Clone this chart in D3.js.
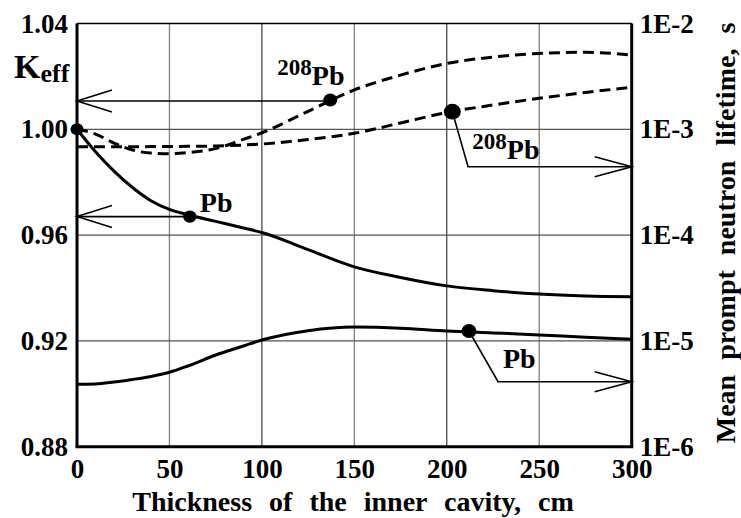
<!DOCTYPE html>
<html>
<head>
<meta charset="utf-8">
<script src="https://cdn.jsdelivr.net/npm/d3@7"></script>
<style>
  body { margin: 0; background: #fff; }
  svg { display: block; }
  svg text { font-family: "Liberation Serif", serif; font-weight: bold; }
</style>
</head>
<body>
<svg width="741" height="518"></svg>
<script>
// thickness of the inner cavity, cm
const thickness = [0, 10, 20, 30, 40, 50, 60, 75, 90, 100, 125, 150, 175, 200, 225, 250, 275, 300];
// Keff (left axis)
const keffPb    = [1.000, 0.9915, 0.9842, 0.978, 0.973, 0.9697, 0.9677, 0.9652, 0.9627, 0.961, 0.9545, 0.948, 0.944, 0.9408, 0.939, 0.9377, 0.937, 0.9367];
const keffPb208 = [1.000, 0.9982, 0.9948, 0.9922, 0.991, 0.9908, 0.9912, 0.9927, 0.9962, 0.9987, 1.0068, 1.0149, 1.0205, 1.0249, 1.0273, 1.0287, 1.0291, 1.0281];
// mean prompt neutron lifetime, s (right axis, log)
const lifePb    = [3.89e-6, 3.92e-6, 4.09e-6, 4.32e-6, 4.61e-6, 5.05e-6, 5.79e-6, 7.36e-6, 8.95e-6, 1.02e-5, 1.25e-5, 1.35e-5, 1.32e-5, 1.24e-5, 1.19e-5, 1.14e-5, 1.08e-5, 1.035e-5];
const lifePb208 = [6.85e-4, 6.85e-4, 6.85e-4, 6.85e-4, 6.86e-4, 6.87e-4, 6.91e-4, 6.95e-4, 7.10e-4, 7.26e-4, 8.01e-4, 9.17e-4, 1.147e-3, 1.441e-3, 1.697e-3, 1.963e-3, 2.228e-3, 2.495e-3];

const xTicks = [0, 50, 100, 150, 200, 250, 300];
const keffTicks = [0.88, 0.92, 0.96, 1.00, 1.04];
const lifeTicks = [1e-6, 1e-5, 1e-4, 1e-3, 1e-2];

// marked points: [thickness, value]
const startMark = [0, 1.000];
const keffPbMark = [61, 0.967];
const keffPb208Mark = [137, 1.0111];
const lifePb208Mark = [203, 1.467e-3];
const lifePbMark = [212, 1.24e-5];
// elbow points of the callouts going to the right axis
const lifePb208Elbow = [211.5, 4.43e-4];
const lifePbElbow = [227.7, 4.11e-6];

const svg = d3.select("svg");
const L = 77, R = 631.7, T = 23.5, B = 446.7;

const x = d3.scaleLinear().domain([0, 300]).range([L, R]);
const yK = d3.scaleLinear().domain([0.88, 1.04]).range([B, T]);
const yL = d3.scaleLog().domain([1e-6, 1e-2]).range([B, T]);

// grid
const vGrid = [50, 100, 150, 200, 250];
svg.append("g").selectAll("line").data(vGrid).join("line")
  .attr("x1", d => x(d)).attr("x2", d => x(d))
  .attr("y1", T).attr("y2", B)
  .attr("stroke", d => d % 100 === 0 ? "#111" : "#888")
  .attr("stroke-width", d => d % 100 === 0 ? 1 : 1.4);
svg.append("g").selectAll("line").data([0.92, 0.96, 1.00]).join("line")
  .attr("x1", L).attr("x2", R)
  .attr("y1", d => yK(d)).attr("y2", d => yK(d))
  .attr("stroke", "#555").attr("stroke-width", 1.3);

// frame
svg.append("line").attr("x1", L).attr("x2", R).attr("y1", T).attr("y2", T)
  .attr("stroke", "#000").attr("stroke-width", 1.5);
svg.append("line").attr("x1", L).attr("x2", L).attr("y1", T).attr("y2", B)
  .attr("stroke", "#000").attr("stroke-width", 3);
svg.append("line").attr("x1", R).attr("x2", R).attr("y1", T).attr("y2", B)
  .attr("stroke", "#000").attr("stroke-width", 3);
svg.append("line").attr("x1", L - 1.5).attr("x2", R + 1.5).attr("y1", B).attr("y2", B)
  .attr("stroke", "#000").attr("stroke-width", 3);

// axes (labels only)
const styleAxis = g => {
  g.attr("font-family", null).attr("font-size", 27);
  g.select(".domain").remove();
  g.selectAll("text").attr("fill", "#000");
};
svg.append("g").attr("transform", `translate(${L},0)`)
  .call(d3.axisLeft(yK).tickValues(keffTicks).tickFormat(d3.format(".2f")).tickSize(0).tickPadding(9))
  .call(styleAxis);
svg.append("g").attr("transform", `translate(${R},0)`)
  .call(d3.axisRight(yL).tickValues(lifeTicks).tickFormat(d => "1E" + Math.round(Math.log10(d))).tickSize(0).tickPadding(8))
  .call(styleAxis);
svg.append("g").attr("transform", `translate(0,${B})`)
  .call(d3.axisBottom(x).tickValues(xTicks).tickFormat(d3.format("d")).tickSize(0).tickPadding(12))
  .call(styleAxis);

// titles
svg.append("text").attr("x", 353).attr("y", 511).attr("text-anchor", "middle")
  .attr("font-size", 28).attr("word-spacing", 10)
  .text("Thickness of the inner cavity, cm");
svg.append("text").attr("transform", "translate(735,233) rotate(-90)").attr("text-anchor", "middle")
  .attr("font-size", 28).attr("word-spacing", 8)
  .text("Mean prompt neutron lifetime, s");
const kt = svg.append("text").attr("x", 14).attr("y", 78).attr("font-size", 34);
kt.append("tspan").text("K");
kt.append("tspan").attr("font-size", 26).attr("dy", 4).text("eff");

// curves
const rows = thickness.map((t, i) => ({ t, kPb: keffPb[i], k208: keffPb208[i], lPb: lifePb[i], l208: lifePb208[i] }));
const lineOf = (key, scale) => d3.line().x(d => x(d.t)).y(d => scale(d[key])).curve(d3.curveMonotoneX);
const curves = [
  { key: "kPb", scale: yK, dash: null },
  { key: "lPb", scale: yL, dash: null },
  { key: "k208", scale: yK, dash: "11,6" },
  { key: "l208", scale: yL, dash: "11,6" }
];
svg.append("g").selectAll("path").data(curves).join("path")
  .attr("d", c => lineOf(c.key, c.scale)(rows))
  .attr("fill", "none").attr("stroke", "#000").attr("stroke-width", 3)
  .attr("stroke-dasharray", c => c.dash);

// callout arrows
const ann = svg.append("g").attr("fill", "none").attr("stroke", "#000").attr("stroke-width", 1.6);
function arrowLeft(px, py) {
  ann.append("path").attr("d", `M${px},${py}H${L}`);
  ann.append("path").attr("d", `M${L + 35},${py - 11}L${L},${py}L${L + 35},${py + 11}`);
}
function arrowRight(pts) {
  const [p0, p1] = pts;
  const ey = p1[1];
  ann.append("path").attr("d", `M${p0[0]},${p0[1]}L${p1[0]},${ey}H${R}`);
  ann.append("path").attr("d", `M${R - 37},${ey - 10}L${R},${ey}L${R - 37},${ey + 10}`);
}
arrowLeft(x(keffPb208Mark[0]), yK(keffPb208Mark[1]) + 1);
arrowLeft(x(keffPbMark[0]), yK(keffPbMark[1]));
arrowRight([[x(lifePb208Mark[0]), yL(lifePb208Mark[1])], [x(lifePb208Elbow[0]), yL(lifePb208Elbow[1])]]);
arrowRight([[x(lifePbMark[0]), yL(lifePbMark[1])], [x(lifePbElbow[0]), yL(lifePbElbow[1])]]);

// markers
const marks = [
  { p: startMark, s: yK, r: 6.5 },
  { p: keffPbMark, s: yK, r: 6.7 },
  { p: keffPb208Mark, s: yK, r: 7 },
  { p: lifePb208Mark, s: yL, r: 8.5 },
  { p: lifePbMark, s: yL, r: 7.5 }
];
svg.append("g").selectAll("ellipse").data(marks).join("ellipse")
  .attr("cx", d => x(d.p[0])).attr("cy", d => d.s(d.p[1]))
  .attr("rx", d => d.r).attr("ry", d => d.r * 0.92).attr("fill", "#000");

// labels
function label(lx, ly, sup) {
  const t = svg.append("text").attr("x", lx).attr("y", ly).attr("font-size", 28);
  if (sup) {
    t.append("tspan").attr("font-size", 23).attr("dy", -10).text(sup);
    t.append("tspan").attr("dy", 10).text("Pb");
  } else {
    t.text("Pb");
  }
}
label(x(keffPb208Mark[0]) - 53, yK(keffPb208Mark[1]) - 15, "208");
label(x(keffPbMark[0]) + 10, yK(keffPbMark[1]) - 5, null);
label(x(lifePb208Mark[0]) + 20, yL(lifePb208Mark[1]) + 47, "208");
label(x(lifePbMark[0]) + 34, yL(lifePbMark[1]) + 37, null);
</script>
</body>
</html>
